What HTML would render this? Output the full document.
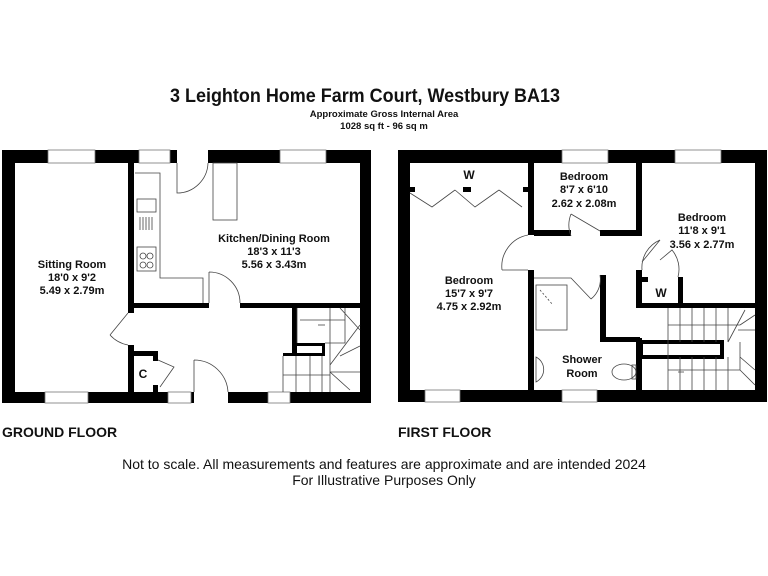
<!DOCTYPE html>
<html><head><meta charset="utf-8"><style>
html,body{margin:0;padding:0;background:#fff;width:768px;height:576px;overflow:hidden}
svg{display:block}
text{font-family:"Liberation Sans",Arial,sans-serif;fill:#111}
</style></head><body>
<svg width="768" height="576" viewBox="0 0 768 576" xmlns="http://www.w3.org/2000/svg">
<text x="365" y="102" font-size="19" font-weight="bold" text-anchor="middle" textLength="390" lengthAdjust="spacingAndGlyphs">3 Leighton Home Farm Court, Westbury BA13</text>
<text x="384" y="117" font-size="9.5" font-weight="bold" text-anchor="middle">Approximate Gross Internal Area</text>
<text x="384" y="129" font-size="9.5" font-weight="bold" text-anchor="middle">1028 sq ft - 96 sq m</text>

<g fill="#000">
<!-- Ground floor outer -->
<rect x="2" y="150" width="46" height="13"/>
<rect x="95" y="150" width="44" height="13"/>
<rect x="170" y="150" width="7" height="13"/>
<rect x="208" y="150" width="72" height="13"/>
<rect x="326" y="150" width="45" height="13"/>
<rect x="2" y="150" width="13" height="253"/>
<rect x="360" y="150" width="11" height="253"/>
<rect x="2" y="392" width="43" height="11"/>
<rect x="88" y="392" width="80" height="11"/>
<rect x="191" y="392" width="3" height="11"/>
<rect x="228" y="392" width="40" height="11"/>
<rect x="290" y="392" width="81" height="11"/>
<!-- inner -->
<rect x="128" y="163" width="6" height="150"/>
<rect x="128" y="345" width="6" height="47"/>
<rect x="134" y="303" width="75" height="5"/>
<rect x="240" y="303" width="120" height="5"/>
<rect x="292" y="308" width="5" height="48"/>
<rect x="297" y="343" width="28" height="3"/>
<rect x="322" y="343" width="3" height="13"/>
<rect x="283" y="353" width="42" height="3"/>
<rect x="134" y="351" width="24" height="5"/>
<rect x="153" y="351" width="5" height="10"/>
<rect x="153" y="385" width="5" height="7"/>

<!-- First floor outer -->
<rect x="398" y="150" width="164" height="13"/>
<rect x="608" y="150" width="67" height="13"/>
<rect x="721" y="150" width="46" height="13"/>
<rect x="398" y="150" width="12" height="252"/>
<rect x="755" y="150" width="12" height="252"/>
<rect x="398" y="390" width="27" height="12"/>
<rect x="460" y="390" width="102" height="12"/>
<rect x="597" y="390" width="170" height="12"/>
<!-- inner -->
<rect x="528" y="163" width="6" height="72"/>
<rect x="528" y="270" width="6" height="120"/>
<rect x="534" y="230" width="37" height="6"/>
<rect x="600" y="230" width="40" height="6"/>
<rect x="636" y="163" width="6" height="73"/>
<rect x="636" y="270" width="6" height="38"/>
<rect x="636" y="303" width="119" height="5"/>
<rect x="678" y="277" width="5" height="30"/>
<rect x="642" y="277" width="6" height="5"/>
<rect x="600" y="275" width="6" height="67"/>
<rect x="600" y="337" width="40" height="5"/>
<rect x="636" y="338" width="6" height="52"/>
<rect x="641" y="342" width="81" height="15" fill="none" stroke="#000" stroke-width="4"/>
<rect x="410" y="187" width="5" height="5"/>
<rect x="463" y="187" width="8" height="5"/>
<rect x="523" y="187" width="5" height="5"/>
</g>

<!-- windows -->
<g fill="#fff" stroke="#777" stroke-width="0.8">
<rect x="48" y="150" width="47" height="13"/><rect x="139" y="150" width="31" height="13"/><rect x="280" y="150" width="46" height="13"/>
<rect x="45" y="392" width="43" height="11"/><rect x="168" y="392" width="23" height="11"/><rect x="268" y="392" width="22" height="11"/>
<rect x="562" y="150" width="46" height="13"/><rect x="675" y="150" width="46" height="13"/>
<rect x="425" y="390" width="35" height="12"/><rect x="562" y="390" width="35" height="12"/>
</g>

<!-- thin lines: counters, doors, stairs -->
<g fill="none" stroke="#444" stroke-width="0.8">
<path d="M135 173 H160 V278 H203 V303"/>
<rect x="213" y="163" width="24" height="57"/>
<rect x="137" y="199" width="19" height="13"/>
<path d="M140 217 v13 M143 217 v13 M146 217 v13 M149 217 v13 M152 217 v13"/>
<rect x="137" y="247" width="19" height="24"/><circle cx="143" cy="256" r="3"/><circle cx="150" cy="256" r="3"/><circle cx="143" cy="265" r="3"/><circle cx="150" cy="265" r="3"/>
<path d="M177 163 V193 A31 31 0 0 0 208 163"/>
<path d="M209 272 V303 M209 272 A31 31 0 0 1 240 303"/>
<path d="M110 335 L128 313 M110 335 A32 32 0 0 0 128 345"/>
<path d="M194 360 A34 34 0 0 1 228 392 M194 360 V392"/>
<path d="M160 387 L174 367 L158 360"/>
<path d="M297 308 V343 M325 343 H345 V308 M330 308 V392 M283 356 V392 M296 356 V392 M310 356 V392 M322 356 V392 M283 375 H330 M330 365 L360 325 M330 372 L360 372 M330 372 L350 390 M300 320 H345 M340 308 L360 330 M340 356 L360 346"/>
<path d="M325 325 H318"/>
<path d="M410 193 L432 207 L455 190 M455 190 L475 207 L499 190 M499 190 L522 207"/>
<path d="M502 270 A32 32 0 0 1 528 235 M502 270 H528"/>
<path d="M571 214 L600 231 M571 214 A30 30 0 0 0 571 236"/>
<path d="M642 270 A30 30 0 0 1 660 240 L642 262 M660 260 L672 250 A30 30 0 0 1 678 277"/>
<path d="M534 278 H571 L591 299 M600 275 A25 25 0 0 1 591 299"/>
<rect x="536" y="285" width="31" height="45"/>
<path d="M540 290 L553 305" stroke-dasharray="2 2"/>
<path d="M536 357 A14 14 0 0 1 536 382 Z"/>
<ellipse cx="624" cy="372" rx="12" ry="8"/><rect x="632" y="365" width="4" height="14"/>
<path d="M668 308 V390 M680 308 V342 M692 308 V342 M704 308 V342 M716 308 V342 M728 308 V342 M668 325 H740 M740 325 L755 315 M738 330 L755 330 M728 342 L745 310 M668 370 H740 V342 M740 370 L755 385 M680 357 V390 M692 357 V390 M704 357 V390 M716 357 V390 M728 357 V390 M740 357 L755 370 M678 372 H684"/>
</g>

<g font-weight="bold" font-size="11" text-anchor="middle">
<text x="72" y="268">Sitting Room</text><text x="72" y="281">18'0 x 9'2</text><text x="72" y="294">5.49 x 2.79m</text>
<text x="274" y="242">Kitchen/Dining Room</text><text x="274" y="255">18'3 x 11'3</text><text x="274" y="268">5.56 x 3.43m</text>
<text x="143" y="378" font-size="12">C</text>
<text x="469" y="179" font-size="12">W</text>
<text x="469" y="284">Bedroom</text><text x="469" y="297">15'7 x 9'7</text><text x="469" y="310">4.75 x 2.92m</text>
<text x="584" y="180">Bedroom</text><text x="584" y="193">8'7 x 6'10</text><text x="584" y="207">2.62 x 2.08m</text>
<text x="702" y="221">Bedroom</text><text x="702" y="234">11'8 x 9'1</text><text x="702" y="248">3.56 x 2.77m</text>
<text x="661" y="297" font-size="12">W</text>
<text x="582" y="363">Shower</text><text x="582" y="377">Room</text>
</g>
<text x="2" y="437" font-size="14" font-weight="bold">GROUND FLOOR</text>
<text x="398" y="437" font-size="14" font-weight="bold">FIRST FLOOR</text>
<text x="384" y="469" font-size="14" text-anchor="middle">Not to scale. All measurements and features are approximate and are intended 2024</text>
<text x="384" y="485" font-size="14" text-anchor="middle">For Illustrative Purposes Only</text>
</svg>
</body></html>
